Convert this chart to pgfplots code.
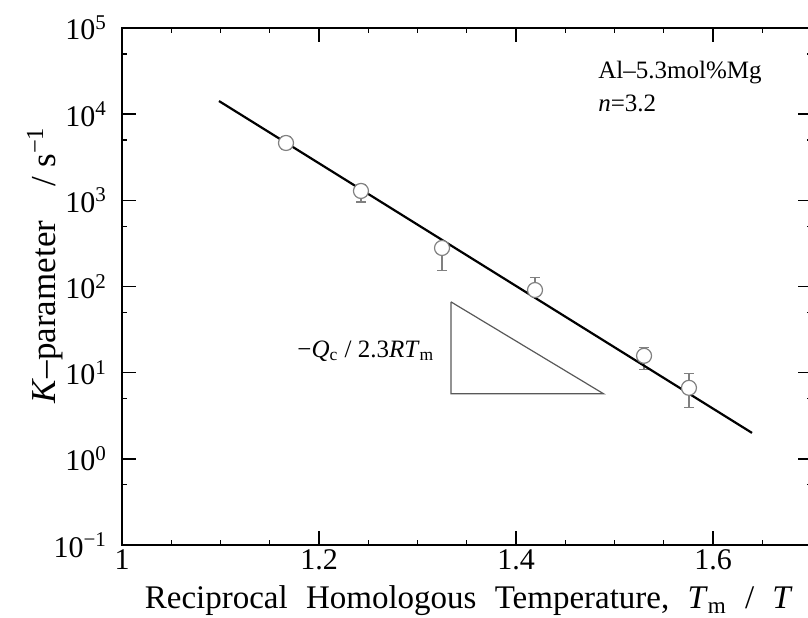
\documentclass[border=0pt]{standalone}
\usepackage{fontspec}
\setmainfont{Liberation Serif}
\usepackage{pgfplots}
\pgfplotsset{compat=1.18}
\begin{document}
\begin{tikzpicture}
\begin{axis}[
 at={(61pt,36pt)}, anchor=south west,
 width=344.75pt, height=258.5pt, scale only axis,
 xmin=1, xmax=1.7, ymode=log, ymin=0.1, ymax=1e5,
 xtick={1,1.2,1.4,1.6},
 xticklabels={1,1.2,1.4,1.6},
 minor xtick={1.05,1.1,1.15,1.25,1.3,1.35,1.45,1.5,1.55,1.65},
 ytick={0.1,1,10,100,1000,10000,100000},
 yticklabels={10\textsuperscript{−1},10\textsuperscript{0},10\textsuperscript{1},10\textsuperscript{2},10\textsuperscript{3},10\textsuperscript{4},10\textsuperscript{5}},
 minor ytick={0.5,5,50,500,5000,50000},
 tick align=inside, major tick length=7pt, minor tick length=2.5pt,
 tick style={black, line width=0.7pt},
 axis line style={line width=1pt},
 ticklabel style={font=\fontsize{15}{17}\selectfont},
 /pgf/number format/assume math mode=true,
 xticklabel style={yshift=-1pt, inner sep=1pt},
 yticklabel style={xshift=-4pt},
 xlabel={Reciprocal\hspace{5pt} Homologous\hspace{5pt} Temperature,\hspace{5pt} \textit{T}\textsubscript{m}\hspace{5pt} /\hspace{5pt} \textit{T}},
 ylabel={\textit{K}–parameter\hspace{13pt} / s\textsuperscript{−1}},
 xlabel style={at={(axis description cs:0.503,-0.107)}, anchor=center, inner sep=1pt, font=\fontsize{16.5}{18}\selectfont},
 ylabel style={at={(axis description cs:-0.1117,0.5416)}, anchor=center, rotate=0, font=\fontsize{17.5}{19}\selectfont},
 clip=false,
]
% error bars
\addplot[draw=none, mark=none, gray,
  error bars/.cd, y dir=both, y explicit,
  error bar style={gray, line width=0.6pt},
  error mark options={rotate=90, mark size=2.6pt, gray, line width=0.6pt}]
 coordinates {
 (1.1665,4630) += (0,800) -= (0,780)
 (1.2426,1285) += (0,225) -= (0,327)
 (1.3249,280) += (0,41) -= (0,128)
 (1.4193,91) += (0,35) -= (0,13)
 (1.530,15.7) += (0,3.7) -= (0,4.9)
 (1.5756,6.67) += (0,3.01) -= (0,2.76)
 };
% fit line
\addplot[black, line width=1.1pt, mark=none] coordinates {(1.0985,14200) (1.6396,2.0)};
% data points
\addplot[only marks, mark=*, mark size=3.75pt,
  mark options={fill=white, draw=gray, line width=0.6pt}]
 coordinates {
 (1.1665,4630) (1.2426,1285) (1.3249,280) (1.4193,91) (1.530,15.7) (1.5756,6.67)
 };
% slope triangle
\addplot[gray!70!black, line width=0.6pt, mark=none] coordinates {
 (1.334,66.3) (1.334,5.68) (1.489,5.68) (1.334,66.3)};
\node[anchor=base west, inner sep=0pt, font=\fontsize{12.5}{14}\selectfont] at (axis cs:1.4832,25600) {Al–5.3mol\%Mg};
\node[anchor=base west, inner sep=0pt, font=\fontsize{12.5}{14}\selectfont] at (axis cs:1.4832,10600) {\textit{n}=3.2};
\node[anchor=base west, inner sep=0pt, font=\fontsize{12.5}{14}\selectfont] at (axis cs:1.1777,15.2) {−\textit{Q}\textsubscript{c} / 2.3\textit{RT}\textsubscript{m}};
\end{axis}
\pgfresetboundingbox
\path[use as bounding box] (0,0) rectangle (404pt,308.5pt);
\end{tikzpicture}
\end{document}
